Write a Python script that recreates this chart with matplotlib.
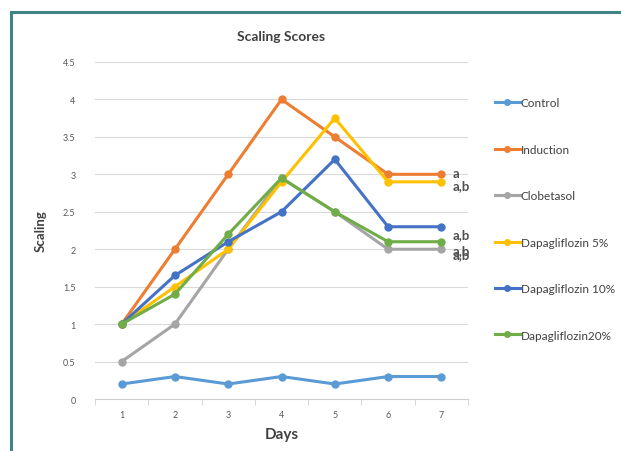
import matplotlib.pyplot as plt
from matplotlib.patches import Rectangle

plt.rcParams['font.family'] = ['Lato', 'DejaVu Sans']

days = [1, 2, 3, 4, 5, 6, 7]
series_names = ['Control', 'Induction', 'Clobetasol', 'Dapagliflozin 5%',
                'Dapagliflozin 10%', 'Dapagliflozin20%']
control = [0.2, 0.3, 0.2, 0.3, 0.2, 0.3, 0.3]
induction = [1, 2, 3, 4, 3.5, 3, 3]
clobetasol = [0.5, 1, 2, 2.95, 2.5, 2, 2]
dapa5 = [1, 1.5, 2, 2.9, 3.75, 2.9, 2.9]
dapa10 = [1, 1.65, 2.1, 2.5, 3.2, 2.3, 2.3]
dapa20 = [1, 1.4, 2.2, 2.95, 2.5, 2.1, 2.1]
colors = ['#5B9BD5', '#ED7D31', '#A5A5A5', '#FFC000', '#4472C4', '#70AD47']
# significance letters next to the day-7 points
sig_labels = ['', 'a', 'a,b', 'a,b', 'a,b', 'a,b']

all_series = [control, induction, clobetasol, dapa5, dapa10, dapa20]

fig = plt.figure(figsize=(6.21, 4.52), dpi=100)
ax = fig.add_axes([95 / 621, 1 - 400 / 452, 373 / 621, 337 / 452])

for name, vals, c in zip(series_names, all_series, colors):
    ax.plot(days, vals, color=c, lw=2.2, marker='o', ms=5, label=name,
            zorder=3)

# the letters sit a little off their points and overlap, like the original
offsets = {1: 0.02, 3: -0.04, 4: -0.1, 5: -0.11, 2: -0.07}
for i, (vals, lab) in enumerate(zip(all_series, sig_labels)):
    if lab:
        ax.text(days[-1] + 0.22, vals[-1] + offsets.get(i, 0), lab,
                fontsize=9.5, fontweight='bold', color='#505050',
                va='center', ha='left', clip_on=False)

ax.set_xlim(0.5, 7.5)
ax.set_ylim(0, 4.5)
ax.set_yticks([0, 0.5, 1, 1.5, 2, 2.5, 3, 3.5, 4, 4.5])
ax.set_yticklabels(['0', '0.5', '1', '1.5', '2', '2.5', '3', '3.5', '4', '4.5'])
ax.set_xticks(days)
ax.set_xticks([d + 0.5 for d in [0] + days], minor=True)
ax.tick_params(axis='x', which='major', length=0, labelsize=6.5,
               colors='#595959', pad=8)
ax.tick_params(axis='x', which='minor', length=4, color='#d0d0d0')
ax.tick_params(axis='y', length=0, labelsize=6.5, colors='#595959', pad=14)
ax.grid(axis='y', color='#d9d9d9', lw=0.8)
ax.set_axisbelow(True)
for s in ['top', 'right', 'left']:
    ax.spines[s].set_visible(False)
ax.spines['bottom'].set_color('#d0d0d0')

ax.set_title('Scaling Scores', fontsize=10, fontweight='bold', color='#404040',
             pad=16)
ax.set_xlabel('Days', fontsize=11, fontweight='bold', color='#404040',
              labelpad=6)
ax.set_ylabel('Scaling', fontsize=9.5, fontweight='bold', color='#404040',
              labelpad=12)

fig.legend(loc='center left', bbox_to_anchor=(495 / 621, 1 - 220 / 452),
           frameon=False, fontsize=8.5, handlelength=2.1, handletextpad=0.1,
           labelspacing=3.0, borderpad=0, borderaxespad=0,
           labelcolor='#404040', markerscale=0.8)

# teal frame around the figure (only top and left edges visible)
fig.add_artist(Rectangle((11 / 621, -0.1), 1.2, 1.1 - 13 / 452,
                         transform=fig.transFigure, fill=False,
                         edgecolor='#3f8585', lw=2.2))

fig.savefig('out.png', dpi=100)
